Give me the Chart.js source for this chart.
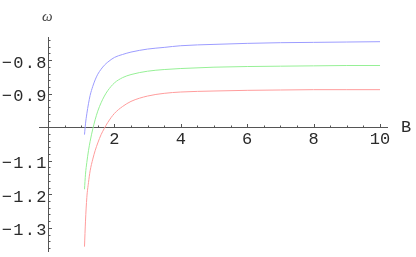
<!DOCTYPE html>
<html>
<head>
<meta charset="utf-8">
<script src="https://cdn.jsdelivr.net/npm/chart.js@4.4.1/dist/chart.umd.min.js"></script>
<style>
  html, body { margin: 0; padding: 0; background: #ffffff; }
  #wrap { width: 416px; height: 257px; }
</style>
</head>
<body>
<div id="wrap"><canvas id="myChart" width="416" height="257"></canvas></div>
<script>
// values
const bValues = [1.10, 1.13, 1.17, 1.22, 1.27, 1.35, 1.42, 1.5, 1.6, 1.7, 1.8, 2.0, 2.25, 2.5, 3.0, 3.5, 4, 5, 6, 7, 8, 9, 10];
const blueOmega = [-1.022, -0.99, -0.960, -0.930, -0.905, -0.878, -0.859, -0.842, -0.827, -0.815, -0.806, -0.792, -0.783, -0.776, -0.767, -0.762, -0.757, -0.753, -0.750, -0.748, -0.747, -0.746, -0.745];
const greenOmega = [-1.185, -1.14, -1.105, -1.07, -1.042, -1.005, -0.978, -0.952, -0.927, -0.907, -0.891, -0.868, -0.852, -0.843, -0.833, -0.828, -0.825, -0.821, -0.819, -0.818, -0.817, -0.816, -0.816];
const redOmega = [-1.356, -1.28, -1.210, -1.165, -1.130, -1.095, -1.070, -1.047, -1.022, -1.003, -0.986, -0.959, -0.938, -0.923, -0.907, -0.899, -0.895, -0.892, -0.890, -0.889, -0.888, -0.888, -0.888];

// axis ticks
const xMajorTicks = [2, 4, 6, 8, 10];
const xTickLabels = ['2', '4', '6', '8', '10'];
const yMajorTicks = [-0.8, -0.9, -1.1, -1.2, -1.3];
const yTickLabels = ['\u22120.8', '\u22120.9', '\u22121.1', '\u22121.2', '\u22121.3'];

const toPoints = (ys) => bValues.map((b, i) => ({ x: b, y: ys[i] }));

// Mathematica style axes crossing at (0, -1)
const crossAxes = {
	id: 'crossAxes',
	beforeDatasetsDraw(chart) {
		const ctx = chart.ctx;
		const xs = chart.scales.x, ys = chart.scales.y;
		const area = chart.chartArea;
		const y0 = Math.round(ys.getPixelForValue(-1)) + 0.5;
		const x0 = Math.round(xs.getPixelForValue(0)) + 0.5;

		ctx.save();
		ctx.strokeStyle = '#555555';
		ctx.lineWidth = 1;
		ctx.beginPath();
		ctx.moveTo(area.left, y0); ctx.lineTo(area.right, y0);
		ctx.moveTo(x0, area.top); ctx.lineTo(x0, area.bottom);

		// x ticks (point up)
		for (let v = 0.5; v <= 10.01; v += 0.5) {
			const px = Math.round(xs.getPixelForValue(v)) + 0.5;
			const len = Math.abs(v % 2) < 0.01 ? 3.5 : 2;
			ctx.moveTo(px, y0); ctx.lineTo(px, y0 - len);
		}
		// y ticks (point right)
		for (let k = -68; k <= -37; k++) {
			const v = k / 50;
			const py = Math.round(ys.getPixelForValue(v)) + 0.5;
			const len = (k % 5 === 0) ? 3.5 : 2;
			ctx.moveTo(x0, py); ctx.lineTo(x0 + len, py);
		}
		ctx.stroke();

		ctx.fillStyle = '#2a2a2a';
		ctx.font = '17px "Liberation Mono"';
		ctx.textBaseline = 'alphabetic';
		ctx.textAlign = 'center';
		xMajorTicks.forEach((v, i) => {
			ctx.fillText(xTickLabels[i], xs.getPixelForValue(v), y0 + 16);
		});
		ctx.textAlign = 'right';
		ctx.letterSpacing = '1.3px';
		yMajorTicks.forEach((v, i) => {
			ctx.fillText(yTickLabels[i], x0 - 0.8, ys.getPixelForValue(v) + 7.5);
		});
		ctx.letterSpacing = '0px';

		// axis titles
		ctx.textAlign = 'left';
		ctx.fillText('B', 401, y0 + 4);
		ctx.font = 'italic 15px "Liberation Serif"';
		ctx.fillStyle = '#444444';
		ctx.fillText('\u03c9', 42, 21);
		ctx.restore();
	}
};

const lineSet = (label, data, color) => ({
	label: label,
	data: toPoints(data),
	borderColor: color,
	borderWidth: 1,
	pointRadius: 0,
	fill: false,
	cubicInterpolationMode: 'monotone'
});

new Chart(document.getElementById('myChart'), {
	type: 'line',
	data: {
		datasets: [
			lineSet('blue', blueOmega, '#9c9cff'),
			lineSet('green', greenOmega, '#96f096'),
			lineSet('red', redOmega, '#ff9c9c')
		]
	},
	options: {
		responsive: false,
		animation: false,
		layout: { padding: { left: 39, right: 28, top: 37, bottom: 5 } },
		plugins: { legend: { display: false }, tooltip: { enabled: false } },
		scales: {
			x: { type: 'linear', min: -0.27, max: 10.24, display: false },
			y: { type: 'linear', min: -1.372, max: -0.731, display: false }
		}
	},
	plugins: [crossAxes]
});
</script>
</body>
</html>
